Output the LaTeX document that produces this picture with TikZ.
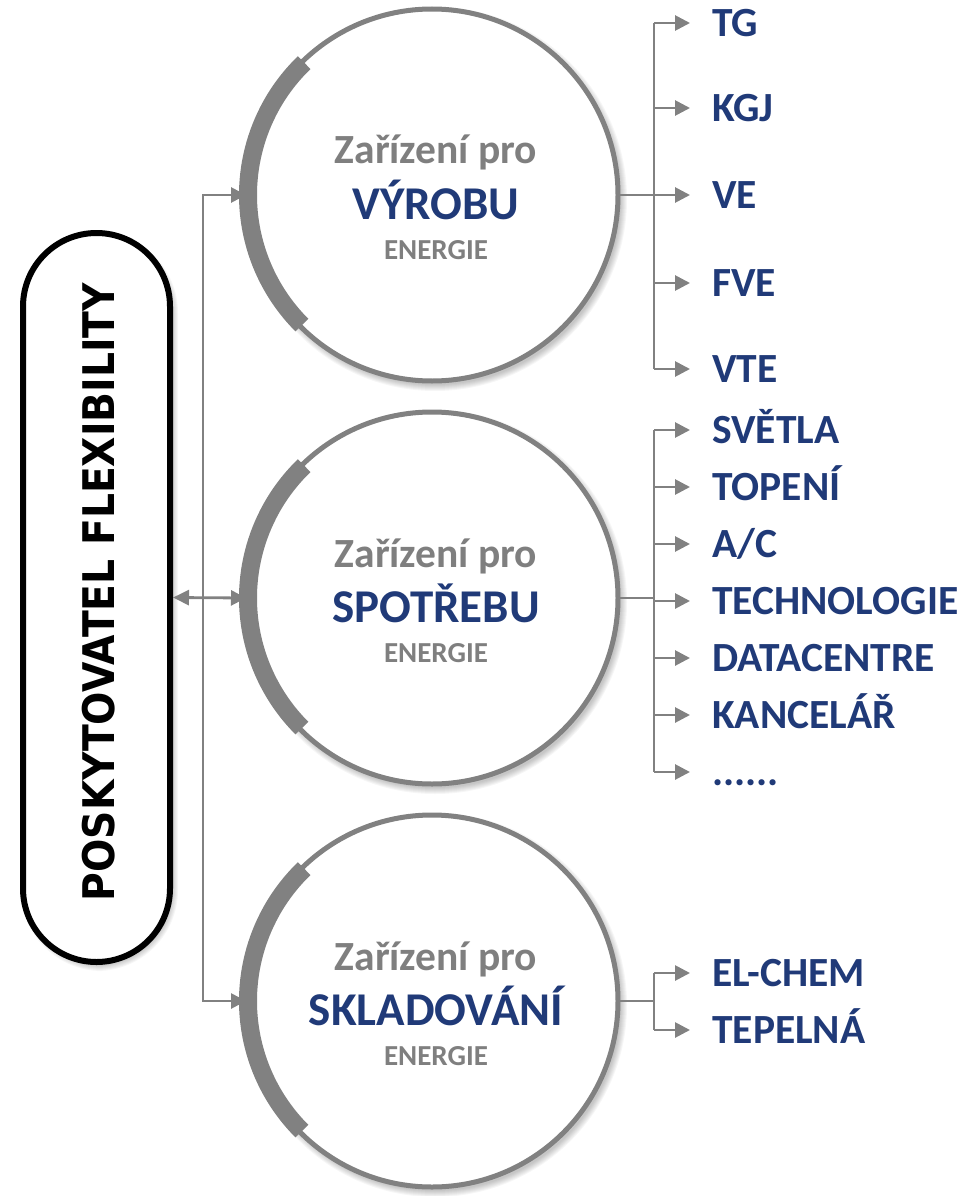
\documentclass[tikz,border=0pt]{standalone}
\usepackage{fontspec}
\setmainfont{Carlito}
\newfontfamily\boxfont[FakeStretch=0.9]{DejaVu Sans}
\usetikzlibrary{arrows.meta,calc}
\definecolor{navy}{HTML}{203A78}
\definecolor{txtgray}{HTML}{7F7F7F}
\definecolor{linegray}{HTML}{818181}
\pgfdeclarelayer{shade}
\pgfdeclarelayer{wires}
\pgfsetlayers{shade,wires,main}

\begin{document}
\begin{tikzpicture}[x=1pt,y=1pt,
  conn/.style={draw=linegray, line width=2.8pt},
  tipx/.style={-{Triangle[length=15pt,width=15pt]}},
  disc/.style={circle, draw=linegray, line width=5pt, fill=white,
    minimum size=372pt, inner sep=0pt, outer sep=0pt},
  rim/.style={draw=linegray, line width=18pt},
  item/.style={font=\bfseries\fontsize{41.5}{41.5}\selectfont, text=navy,
    anchor=west, inner sep=0pt, text height=26.7pt, text depth=0pt},
  head/.style={font=\bfseries\fontsize{41.5}{41.5}\selectfont, text=txtgray, anchor=base},
  kind/.style={font=\bfseries\fontsize{47}{47}\selectfont, text=navy, anchor=base},
  sub/.style={font=\bfseries\fontsize{29}{29}\selectfont, text=txtgray, anchor=base},
  halo/.style={fill=black, opacity=0.035}
]
\useasboundingbox (0,0) rectangle (961,-1196);

% circle centres
\coordinate (p1) at (432,-195);
\coordinate (p2) at (432,-598);
\coordinate (p3) at (432,-1001);
% trunk positions of the left and right connector trees
\coordinate (lx) at (203,0);
\coordinate (rx) at (654,0);

% soft shadows
\begin{pgfonlayer}{shade}
\foreach \p in {p1,p2,p3}{
  \foreach \i in {0,...,6}
    \fill[halo] ([shift={(3,-4)}]\p) circle[radius=186pt+\i pt];
}
\foreach \i in {0,...,5}
  \fill[halo, rounded corners=76pt+\i pt]
    (23+3-\i, -233-4+\i) rectangle (170+3+\i, -962-4-\i);
\end{pgfonlayer}

% the three device circles, heavy rims on their left
\node[disc] (c1) at (p1) {};
\node[disc] (c2) at (p2) {};
\node[disc] (c3) at (p3) {};
\foreach \p in {p1,p2,p3}
  \draw[rim] ([shift={(134:184pt)}]\p) arc[start angle=134, end angle=225, radius=184pt];

% provider box
\node[draw=black, line width=6pt, fill=white, rounded corners=73.5pt,
  minimum width=147pt, minimum height=729pt, inner sep=0pt] (box) at (96.5,-597.5) {};
\node[rotate=90, inner sep=0pt, font=\boxfont\bfseries\fontsize{43.6}{43.6}\selectfont]
  (boxlbl) at (99,-592) {POSKYTOVATEL FLEXIBILITY};

% circle captions
\node[head] (h1) at ([shift={(4,31)}]p1) {Zařízení pro};
\node[kind] (k1) at ([shift={(4,-24)}]p1) {VÝROBU};
\node[sub]  (s1) at ([shift={(4,-64)}]p1) {ENERGIE};
\node[head] (h2) at ([shift={(4,31)}]p2) {Zařízení pro};
\node[kind] (k2) at ([shift={(4,-24)}]p2) {SPOTŘEBU};
\node[sub]  (s2) at ([shift={(4,-64)}]p2) {ENERGIE};
\node[head] (h3) at ([shift={(4,31)}]p3) {Zařízení pro};
\node[kind] (k3) at ([shift={(4,-24)}]p3) {SKLADOVÁNÍ};
\node[sub]  (s3) at ([shift={(4,-64)}]p3) {ENERGIE};

% production items
\node[item] (a1) at (712,-23)  {TG};
\node[item] (a2) at (712,-108) {KGJ};
\node[item] (a3) at (712,-195) {VE};
\node[item] (a4) at (712,-283) {FVE};
\node[item] (a5) at (712,-369) {VTE};
% consumption items
\node[item] (b1) at (712,-430) {SVĚTLA};
\node[item] (b2) at (712,-487) {TOPENÍ};
\node[item] (b3) at (712,-544) {A/C};
\node[item] (b4) at (712,-601) {TECHNOLOGIE};
\node[item] (b5) at (712,-658) {DATACENTRE};
\node[item] (b6) at (712,-715) {KANCELÁŘ};
\node[item] (b7) at (712,-772) {......};
% storage items
\node[item] (d1) at (712,-973)  {EL-CHEM};
\node[item] (d2) at (712,-1030) {TEPELNÁ};

\begin{pgfonlayer}{wires}
% left tree
\draw[conn, {Triangle[length=15pt,width=15pt]}-{Triangle[length=15pt,width=15pt]}]
  (c1.west) -- (c1.west -| lx) -- (c3.west -| lx) -- (c3.west);
\draw[conn, {Triangle[length=16pt,width=15pt]}-{Triangle[length=15pt,width=15pt]}]
  (box.east) -- (c2.west);

% right trees
\draw[conn] (c1.east) -- (c1.east -| rx);
\draw[conn] (a1.west -| rx) -- (a5.west -| rx);
\foreach \n in {a1,a2,a3,a4,a5}
  \draw[conn, tipx] (\n.west -| rx) -- ([xshift=-22pt]\n.west);

\draw[conn] (c2.east) -- (c2.east -| rx);
\draw[conn] (b1.west -| rx) -- (b7.west -| rx);
\foreach \n in {b1,b2,b3,b4,b5,b6,b7}
  \draw[conn, tipx] (\n.west -| rx) -- ([xshift=-22pt]\n.west);

\draw[conn] (c3.east) -- (c3.east -| rx);
\draw[conn] (d1.west -| rx) -- (d2.west -| rx);
\foreach \n in {d1,d2}
  \draw[conn, tipx] (\n.west -| rx) -- ([xshift=-22pt]\n.west);
\end{pgfonlayer}
\end{tikzpicture}
\end{document}
